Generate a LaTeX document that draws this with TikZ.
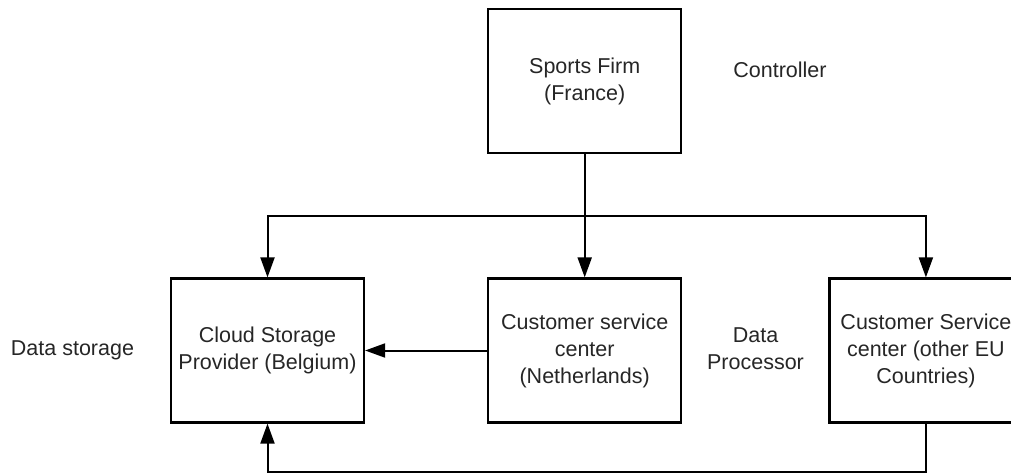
\documentclass[tikz,border=0pt]{standalone}
\usepackage{fontspec}
\setmainfont{Liberation Sans}
\usepackage{tikz}
\usetikzlibrary{positioning, arrows.meta}

\tikzset{
  entity/.style={draw, rectangle, line width=2.2pt, minimum width=193pt,
    minimum height=144pt, align=center, text=black!85,
    font=\fontsize{21.5}{27}\selectfont},
  role/.style={align=center, text=black!85, font=\fontsize{21.5}{27}\selectfont},
  flow/.style={line width=2pt, -{Triangle[length=20pt, width=14pt]}},
  flowline/.style={line width=2pt}
}

\begin{document}
\begin{tikzpicture}[x=1pt, y=-1pt]
    \clip (0,0) rectangle (1011,474);
    \node[entity] (cloud) at (267.5,350.5) {Cloud Storage\\Provider (Belgium)};
    \node[entity, right=122pt of cloud]
      (nl) {Customer service\\center\\(Netherlands)};
    \node[entity, right=146pt of nl]
      (eu) {Customer Service\\center (other EU\\Countries)};
    \node[entity, above=123pt of nl]
      (firm) {Sports Firm\\(France)};
    \node[role] (ctrl) at (780,70) {Controller};
    \node[role] (storage) at (72.5,350) {Data storage};
    \node[role] (proc) at (755.5,349) {Data\\Processor};
    \coordinate (split) at (firm.south |- 0,216);
    \coordinate (low) at (eu.south |- 0,472);
    \draw[flowline] (firm.south) -- (split);
    \draw[flow] (split) -| (cloud.north);
    \draw[flow] (split) -- (nl.north);
    \draw[flow] (split) -| (eu.north);
    \draw[flow] (nl.west) -- (cloud.east);
    \draw[flow] (eu.south) -- (low) -| (cloud.south);
  \end{tikzpicture}
\end{document}
